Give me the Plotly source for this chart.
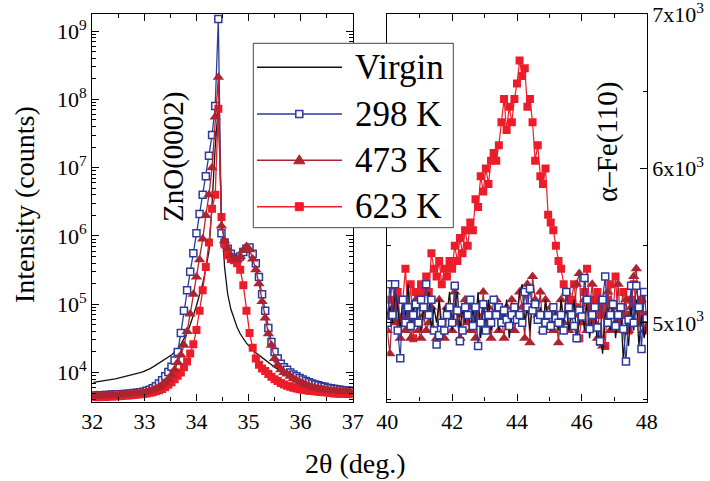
import numpy as np
import plotly.graph_objects as go

# ---------------- data: ZnO(0002) region (left panel, log scale) ----------------
x_left = np.round(32.02 + 0.06 * np.arange(84), 2)

virgin_left = [7200, 7300, 7400, 7500, 7650, 7800, 7950, 8100, 8300, 8500,
               8700, 8900, 9100, 9400, 9700, 10000, 10300, 10700, 11300, 12000,
               12800, 13600, 14500, 15500, 16500, 18000, 20000, 22000, 26000, 31000,
               38000, 50000, 68000, 95000, 140000, 200000, 330000, 600000, 3.0e6, 2.0e7,
               8.0e7, 2.0e6, 3.5e5, 1.4e5, 85000, 60000, 46000, 37000, 31000, 27000,
               24000, 21500, 19500, 18000, 16500, 15000, 14000, 13000, 12000, 11200,
               10500, 9900, 9400, 9000, 8600, 8200, 7900, 7600, 7300, 7000,
               6800, 6600, 6400, 6250, 6100, 6000, 5900, 5800, 5700, 5650,
               5600, 5550, 5500, 5450]

k298_left = [4600, 4600, 4650, 4650, 4700, 4700, 4750, 4750, 4800, 4800,
             4850, 4900, 4950, 5000, 5050, 5150, 5250, 5400, 5600, 5900,
             6300, 6900, 7700, 8800, 10200, 12200, 15000, 20000, 38000, 80000,
             160000, 300000, 560000, 1.1e6, 2.1e6, 4.0e6, 7.5e6, 1.5e7, 3.0e7, 8.0e7,
             1.5e9, 1.1e6, 8.0e5, 6.5e5, 5.5e5, 4.8e5, 4.6e5, 5.0e5, 5.8e5, 6.5e5,
             6.8e5, 5.5e5, 4.0e5, 2.5e5, 1.4e5, 80000, 45000, 28000, 20000, 16000,
             13500, 12000, 11000, 10000, 9400, 8800, 8300, 7900, 7500, 7200,
             6900, 6700, 6500, 6300, 6200, 6000, 5900, 5800, 5700, 5600,
             5500, 5450, 5400, 5350]

k473_left = [4550, 4600, 4550, 4650, 4600, 4650, 4700, 4650, 4750, 4800,
             4800, 4850, 4900, 4950, 5000, 5050, 5150, 5250, 5400, 5600,
             5850, 6150, 6600, 7200, 8000, 9200, 11000, 14000, 18000, 25000,
             40000, 72000, 140000, 250000, 450000, 9.0e5, 2.0e6, 4.0e6, 1.0e7, 5.5e7,
             2.1e8, 1.4e6, 8.5e5, 6.5e5, 5.2e5, 4.6e5, 4.5e5, 5.0e5, 6.2e5, 7.0e5,
             6.3e5, 4.6e5, 3.2e5, 2.0e5, 1.1e5, 63000, 37000, 25000, 16000, 13000,
             11000, 10000, 9500, 8800, 8200, 7700, 7300, 7000, 6700, 6400,
             6200, 6000, 5900, 5800, 5700, 5600, 5500, 5500, 5400, 5350,
             5300, 5300, 5250, 5200]

k623_left = [4350, 4400, 4350, 4450, 4400, 4450, 4450, 4500, 4500, 4550,
             4600, 4600, 4650, 4700, 4750, 4800, 4850, 4950, 5050, 5150,
             5300, 5500, 5750, 6100, 6600, 7200, 8000, 9000, 10000, 12000,
             14500, 19000, 26000, 42000, 80000, 160000, 350000, 8.0e5, 2.5e6, 4.0e6,
             7.3e7, 1.9e6, 7.5e5, 5.2e5, 4.6e5, 4.4e5, 4.0e5, 3.2e5, 1.9e5, 80000,
             38000, 23000, 16000, 13000, 11500, 10500, 9500, 8700, 8000, 7500,
             7000, 6700, 6400, 6200, 6000, 5850, 5700, 5600, 5500, 5400,
             5350, 5300, 5250, 5200, 5150, 5100, 5000, 4950, 4950, 4900,
             4900, 4850, 4850, 4800]

# ---------------- data: alpha-Fe(110) region (right panel, linear) ----------------
x_right = np.round(40.0 + 0.08 * np.arange(101), 2)

virgin_right = [5050, 5100, 5000, 5200, 5100, 4950, 5150, 5050, 5250, 4950,
                5100, 5000, 5150, 4950, 5100, 5050, 5200, 4950, 5100, 5000,
                5150, 4900, 5100, 5050, 5200, 4950, 5100, 5200, 4950, 5100,
                5000, 5150, 4950, 5100, 5000, 5200, 4900, 5100, 5000, 5150,
                4950, 5050, 5150, 4950, 5100, 5000, 5150, 4900, 5050, 5100,
                5000, 5200, 5250, 5000, 5100, 4950, 5150, 5050, 5000, 5100,
                4950, 5150, 5000, 4950, 5100, 5050, 4950, 5150, 5000, 5100,
                4950, 5050, 5150, 4900, 5000, 5100, 4950, 5150, 4900, 5050,
                5100, 4850, 5000, 4800, 5050, 5100, 4950, 5150, 4900, 5050,
                5100, 4750, 5000, 4850, 5100, 4950, 5150, 4850, 5050, 4900,
                5000]

k298_right = [5000, 5250, 5050, 5250, 4950, 4770, 5150, 5000, 5100, 4980,
              5050, 5120, 5000, 5150, 5100, 5250, 5050, 5150, 4950, 4860,
              4920, 5000, 4950, 5050, 5100, 5000, 5240, 5080, 4880, 4950,
              5100, 5050, 5150, 4980, 5100, 4850, 5000, 5120, 4950, 5050,
              5000, 5150, 5050, 5100, 5000, 5080, 5020, 4980, 5050, 5100,
              5020, 5050, 5000, 5200, 5100, 5220, 5080, 5120, 5020, 5050,
              4950, 5000, 5050, 4980, 5100, 5030, 5000, 5050, 4950, 5200,
              5100, 5050, 4980, 4900, 5080, 5040, 5290, 5150, 4960, 5050,
              5100, 4970, 4880, 5150, 5300, 5000, 5050, 5120, 4980, 5050,
              5100, 4960, 4750, 5020, 5240, 5000, 5240, 5100, 4830, 5200,
              5030]

k473_right = [4950, 4800, 5100, 5000, 5150, 4900, 5050, 4950, 5100, 4900,
              5000, 5150, 4950, 4900, 5050, 4950, 5000, 5100, 4950, 4900,
              5150, 5000, 4900, 5100, 5050, 4950, 5200, 5000, 4900, 5050,
              5150, 5000, 4950, 5100, 4900, 5050, 5000, 5200, 4950, 5100,
              4900, 5050, 5150, 4950, 5050, 4900, 5100, 5000, 5150, 4950,
              5050, 5200, 5100, 4900, 5250, 4870, 5300, 5150, 5050, 5200,
              4950, 5150, 5000, 5100, 4950, 5050, 4870, 5150, 5000, 5200,
              4950, 5100, 5050, 5250, 5320, 5000, 5150, 4950, 5100, 5250,
              5000, 4900, 5150, 4850, 5050, 5200, 4950, 5100, 5000, 5250,
              4950, 5050, 5150, 4950, 5100, 5300, 5350, 5000, 5150, 4950,
              5050]

k623_right = [5050, 5150, 5250, 5100, 5200, 5000, 5150, 5350, 5050, 5250,
              4900, 5200, 5150, 5250, 5200, 5300, 5200, 5450, 5350, 5300,
              5400, 5250, 5350, 5300, 5400, 5350, 5500, 5400, 5550, 5450,
              5600, 5500, 5650, 5600, 5800, 5750, 5950, 5850, 6000, 5900,
              6050, 6100, 6050, 6150, 6300, 6450, 6250, 6400, 6300, 6450,
              6550, 6700, 6600, 6650, 6400, 6450, 6300, 6050, 6150, 5950,
              5900, 6000, 5700, 5650, 5600, 5500, 5400, 5350, 5250, 5200,
              5100, 5150, 5250, 5100, 4900, 5050, 5200, 5350, 5100, 5000,
              5150, 5200, 5050, 5100, 4850, 5150, 5250, 5050, 5300, 5000,
              5100, 5200, 5050, 4950, 5150, 5250, 5100, 5000, 5150, 5050,
              4950]

left_ticks = [1e4, 1e5, 1e6, 1e7, 1e8, 1e9]
left_ticktext = ["10<sup>4</sup>", "10<sup>5</sup>", "10<sup>6</sup>",
                 "10<sup>7</sup>", "10<sup>8</sup>", "10<sup>9</sup>"]
right_ticks = [5000, 6000, 7000]
right_ticktext = ["5x10<sup>3</sup>", "6x10<sup>3</sup>", "7x10<sup>3</sup>"]
legend_names = ["Virgin", "298 K", "473 K", "623 K"]

# ---------------- styling ----------------
W, H = 710, 481
FONT = "Liberation Serif"
C_VIRGIN = "#111111"
C_298 = "#2b3a9c"
C_473 = "#ad2430"
C_623 = "#ec1c2a"


def px(x):
    return x / W


def py(y):
    return 1 - y / H


fig = go.Figure()

# left panel traces
fig.add_trace(go.Scatter(x=x_left, y=virgin_left, mode="lines", name=legend_names[0],
                         line=dict(color=C_VIRGIN, width=1.3), xaxis="x", yaxis="y"))
fig.add_trace(go.Scatter(x=x_left, y=k298_left, mode="lines+markers", name=legend_names[1],
                         line=dict(color=C_298, width=1.3),
                         marker=dict(symbol="square", size=7, color="white",
                                     line=dict(color=C_298, width=1.5)),
                         xaxis="x", yaxis="y"))
fig.add_trace(go.Scatter(x=x_left, y=k623_left, mode="lines+markers", name=legend_names[3],
                         line=dict(color=C_623, width=1.3),
                         marker=dict(symbol="square", size=8, color=C_623),
                         xaxis="x", yaxis="y"))
fig.add_trace(go.Scatter(x=x_left, y=k473_left, mode="lines+markers", name=legend_names[2],
                         line=dict(color=C_473, width=1.3),
                         marker=dict(symbol="triangle-up", size=10, color=C_473),
                         xaxis="x", yaxis="y"))

# right panel traces
fig.add_trace(go.Scatter(x=x_right, y=k623_right, mode="lines+markers", name=legend_names[3],
                         line=dict(color=C_623, width=1.2),
                         marker=dict(symbol="square", size=8, color=C_623),
                         xaxis="x2", yaxis="y2"))
fig.add_trace(go.Scatter(x=x_right, y=k473_right, mode="lines+markers", name=legend_names[2],
                         line=dict(color=C_473, width=1.2),
                         marker=dict(symbol="triangle-up", size=10, color=C_473),
                         xaxis="x2", yaxis="y2"))
fig.add_trace(go.Scatter(x=x_right, y=virgin_right, mode="lines", name=legend_names[0],
                         line=dict(color=C_VIRGIN, width=1.3), xaxis="x2", yaxis="y2"))
fig.add_trace(go.Scatter(x=x_right, y=k298_right, mode="lines+markers", name=legend_names[1],
                         line=dict(color=C_298, width=1.2),
                         marker=dict(symbol="square", size=7, color="white",
                                     line=dict(color=C_298, width=1.5)),
                         xaxis="x2", yaxis="y2"))

ydom = [py(401.5), py(14)]
tickfont = dict(family=FONT, size=22, color="black")
axis_common = dict(showline=True, linecolor="black", linewidth=1.2, mirror="ticks",
                   ticks="inside", ticklen=7, tickwidth=1.1, tickcolor="black",
                   showgrid=False, zeroline=False, tickfont=tickfont,
                   ticklabeloverflow="allow")

log_minor = [m * 10 ** d for d in range(3, 10) for m in range(2, 10)]

fig.update_layout(
    width=W, height=H,
    margin=dict(l=0, r=0, t=0, b=0, autoexpand=False),
    paper_bgcolor="white", plot_bgcolor="white",
    showlegend=False,
    xaxis=dict(domain=[px(92.3), px(352.7)], range=[32, 37], tickvals=[32, 33, 34, 35, 36, 37],
               minor=dict(tickvals=[32.5, 33.5, 34.5, 35.5, 36.5], ticks="inside", ticklen=4,
                          tickcolor="black", tickwidth=1),
               anchor="y", **axis_common),
    yaxis=dict(domain=ydom, type="log", range=[3.576, 9.25], tickvals=left_ticks,
               ticktext=left_ticktext,
               minor=dict(tickvals=log_minor, ticks="inside", ticklen=4, tickcolor="black",
                          tickwidth=1),
               anchor="x", **axis_common),
    xaxis2=dict(domain=[px(387.3), px(646.7)], range=[40, 48], tickvals=[40, 42, 44, 46, 48],
                minor=dict(tickvals=[41, 43, 45, 47], ticks="inside", ticklen=4,
                           tickcolor="black", tickwidth=1),
                anchor="y2", **axis_common),
    yaxis2=dict(domain=ydom, range=[4490, 7001], tickvals=right_ticks, ticktext=right_ticktext,
                side="right",
                minor=dict(tickvals=[4500, 5500, 6500], ticks="inside", ticklen=4,
                           tickcolor="black", tickwidth=1),
                anchor="x2", **axis_common),
)

# ---------------- legend box (drawn on top of the data) ----------------
shapes = []
lx0, lx1, ly0, ly1 = 253.3, 453.3, 43.3, 227.7
shapes.append(dict(type="rect", xref="paper", yref="paper", layer="above",
                   x0=px(lx0), x1=px(lx1), y0=py(ly1), y1=py(ly0),
                   line=dict(color="#444444", width=1), fillcolor="white"))
row_y = [67.3, 114.0, 160.3, 206.7]
row_col = [C_VIRGIN, C_298, C_473, C_623]
for yy, cc in zip(row_y, row_col):
    shapes.append(dict(type="line", xref="paper", yref="paper", layer="above",
                       x0=px(257), x1=px(342), y0=py(yy), y1=py(yy),
                       line=dict(color=cc, width=1.4)))
mx = 299.3
# 298 K open square
shapes.append(dict(type="rect", xref="paper", yref="paper", layer="above",
                   x0=px(mx - 3.5), x1=px(mx + 3.5), y0=py(row_y[1] + 3.5), y1=py(row_y[1] - 3.5),
                   line=dict(color=C_298, width=1.5), fillcolor="white"))
# 473 K triangle
ty = row_y[2]
shapes.append(dict(type="path", xref="paper", yref="paper", layer="above",
                   path=f"M {px(mx - 5.5)},{py(ty + 3.5)} L {px(mx + 5.5)},{py(ty + 3.5)} "
                        f"L {px(mx)},{py(ty - 5.5)} Z",
                   line=dict(color=C_473, width=1), fillcolor=C_473))
# 623 K filled square
shapes.append(dict(type="rect", xref="paper", yref="paper", layer="above",
                   x0=px(mx - 4), x1=px(mx + 4), y0=py(row_y[3] + 4), y1=py(row_y[3] - 4),
                   line=dict(color=C_623, width=1), fillcolor=C_623))
fig.update_layout(shapes=shapes)

annotations = []
for yy, name in zip(row_y, legend_names):
    annotations.append(dict(x=px(352.7), y=py(yy), xref="paper", yref="paper",
                            text=name, showarrow=False, xanchor="left", yanchor="middle",
                            font=dict(family=FONT, size=35, color="black")))
annotations += [
    dict(x=px(25), y=py(205), xref="paper", yref="paper", text="Intensity (counts)",
         textangle=-90, showarrow=False, xanchor="center", yanchor="middle",
         font=dict(family=FONT, size=28, color="black")),
    dict(x=px(355), y=py(463), xref="paper", yref="paper", text="2θ (deg.)",
         showarrow=False, xanchor="center", yanchor="middle",
         font=dict(family=FONT, size=28, color="black")),
    dict(x=px(174), y=py(157), xref="paper", yref="paper", text="ZnO(0002)",
         textangle=-90, showarrow=False, xanchor="center", yanchor="middle",
         font=dict(family=FONT, size=29, color="black")),
    dict(x=px(607), y=py(142), xref="paper", yref="paper", text="α–Fe(110)",
         textangle=-90, showarrow=False, xanchor="center", yanchor="middle",
         font=dict(family=FONT, size=29, color="black")),
]
fig.update_layout(annotations=annotations)

fig.write_html("out.html")
